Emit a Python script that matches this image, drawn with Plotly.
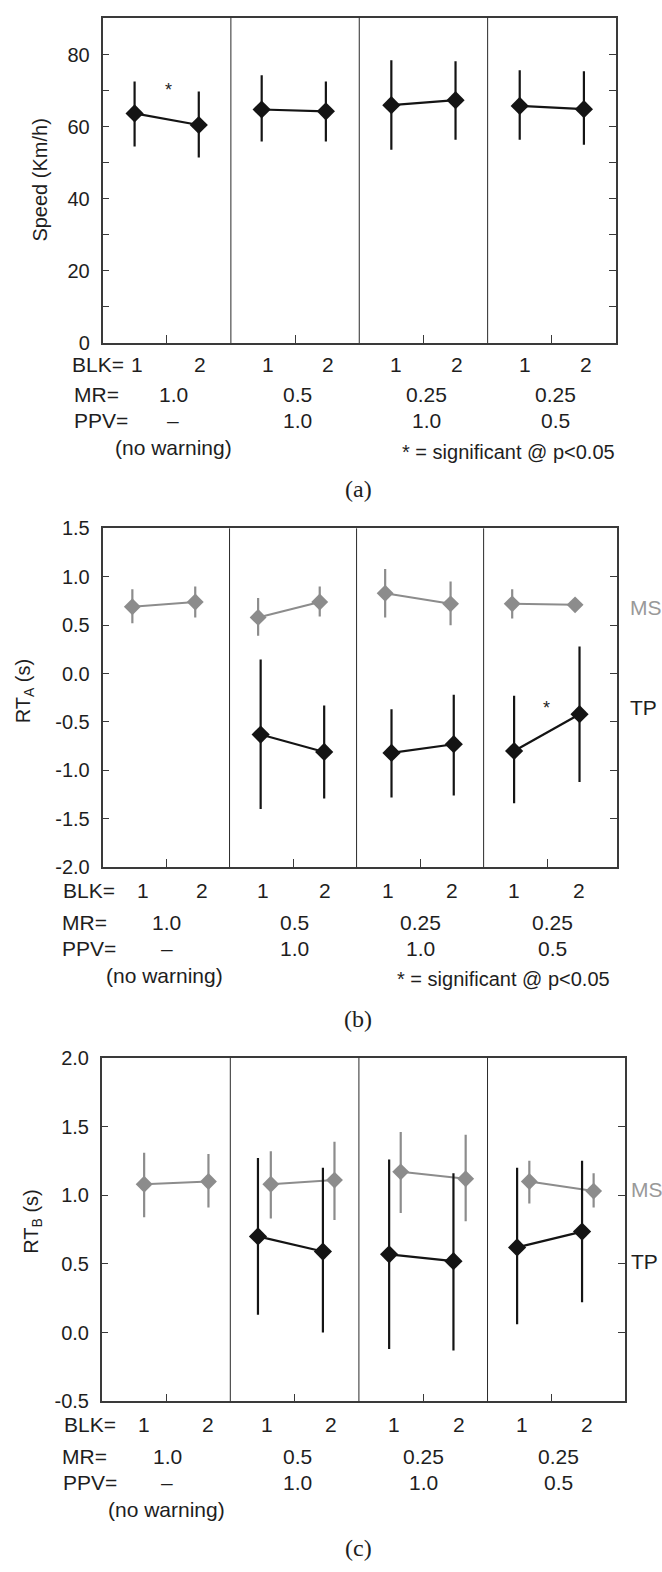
import plotly.graph_objects as go

W, H = 662, 1572

# ---------------- data ----------------
# Panel (a): speed
speed_x = [0.5, 1.5, 2.48, 3.48, 4.5, 5.5, 6.5, 7.5]
speed_mean = [63.7, 60.5, 64.8, 64.3, 66.0, 67.4, 65.8, 64.9]
speed_hi = [72.6, 69.8, 74.3, 72.6, 78.5, 78.2, 75.7, 75.4]
speed_lo = [54.5, 51.5, 55.9, 55.9, 53.6, 56.4, 56.4, 55.0]

# Panel (b): RT_A
ms_a_x = [0.47, 1.46, 2.45, 3.42, 4.45, 5.48, 6.45, 7.44]
ms_a = [0.69, 0.74, 0.58, 0.74, 0.83, 0.72, 0.72, 0.71]
ms_a_hi = [0.87, 0.90, 0.78, 0.90, 1.08, 0.95, 0.87, 0.73]
ms_a_lo = [0.52, 0.58, 0.39, 0.59, 0.58, 0.50, 0.57, 0.69]
tp_a_x = [2.49, 3.49, 4.55, 5.53, 6.48, 7.51]
tp_a = [-0.63, -0.81, -0.82, -0.73, -0.80, -0.42]
tp_a_hi = [0.145, -0.33, -0.37, -0.22, -0.23, 0.28]
tp_a_lo = [-1.40, -1.29, -1.28, -1.26, -1.34, -1.12]

# Panel (c): RT_B
ms_b_x = [0.66, 1.66, 2.63, 3.62, 4.65, 5.66, 6.65, 7.65]
ms_b = [1.08, 1.10, 1.08, 1.11, 1.17, 1.12, 1.10, 1.03]
ms_b_hi = [1.31, 1.30, 1.32, 1.39, 1.46, 1.44, 1.25, 1.16]
ms_b_lo = [0.84, 0.91, 0.83, 0.82, 0.87, 0.81, 0.94, 0.91]
tp_b_x = [2.43, 3.44, 4.47, 5.47, 6.46, 7.47]
tp_b = [0.70, 0.59, 0.57, 0.52, 0.62, 0.735]
tp_b_hi = [1.27, 1.20, 1.26, 1.16, 1.20, 1.25]
tp_b_lo = [0.13, 0.0, -0.12, -0.13, 0.06, 0.22]

# condition labels
blk_labels = ["1", "2", "1", "2", "1", "2", "1", "2"]
mr_labels = ["1.0", "0.5", "0.25", "0.25"]
ppv_labels = ["\u2013", "1.0", "1.0", "0.5"]

speed_ticks = [0, 20, 40, 60, 80]
speed_ticktext = ["0", "20", "40", "60", "80"]
speed_minor = [10, 30, 50, 70]
rta_ticks = [-2.0, -1.5, -1.0, -0.5, 0.0, 0.5, 1.0, 1.5]
rta_ticktext = ["-2.0", "-1.5", "-1.0", "-0.5", "0.0", "0.5", "1.0", "1.5"]
rtb_ticks = [-0.5, 0.0, 0.5, 1.0, 1.5, 2.0]
rtb_ticktext = ["-0.5", "0.0", "0.5", "1.0", "1.5", "2.0"]

# ---------------- styling ----------------
FONT = "Liberation Sans, Arial, Helvetica, sans-serif"
SERIF = "Liberation Serif, Times New Roman, serif"
BLACK = "#141414"
GRAY = "#8c8c8c"
AX = "#3a3a3a"
TXT = "#1e1e1e"


def px(x):
    return x / W


def py(y):
    return 1 - y / H


# pixel boxes of the three plot areas: (left, right, top, bottom)
boxes = [(102.5, 616.0, 6.7, 336.7), (102.5, 617.0, 524.7, 868.3), (101.7, 624.5, 1061.7, 1410.0)]
xranges = [[0, 8.0], [0, 8.1], [0, 8.13]]

fig = go.Figure()


def add_pairs(xa, ya, hi, lo, color, xaxis, yaxis, msize, lw):
    n = len(xa)
    for i in range(0, n, 2):
        xs = xa[i:i + 2]
        ys = ya[i:i + 2]
        up = [h - v for h, v in zip(hi[i:i + 2], ys)]
        dn = [v - l for l, v in zip(lo[i:i + 2], ys)]
        fig.add_trace(go.Scatter(
            x=xs, y=ys, mode="lines+markers", xaxis=xaxis, yaxis=yaxis,
            line=dict(color=color, width=lw),
            marker=dict(symbol="diamond", size=msize, color=color, line=dict(width=0)),
            error_y=dict(type="data", symmetric=False, array=up, arrayminus=dn,
                         color=color, thickness=2.2, width=0),
            showlegend=False, hoverinfo="skip", cliponaxis=False))


add_pairs(speed_x, speed_mean, speed_hi, speed_lo, BLACK, "x", "y", 14, 2.2)
add_pairs(ms_a_x, ms_a, ms_a_hi, ms_a_lo, GRAY, "x2", "y2", 13, 2)
add_pairs(tp_a_x, tp_a, tp_a_hi, tp_a_lo, BLACK, "x2", "y2", 14, 2.2)
add_pairs(ms_b_x, ms_b, ms_b_hi, ms_b_lo, GRAY, "x3", "y3", 13, 2)
add_pairs(tp_b_x, tp_b, tp_b_hi, tp_b_lo, BLACK, "x3", "y3", 14, 2.2)

yranges = [[0, 90.3], [-2.0, 1.5], [-0.5, 2.0]]
yticks = [(speed_ticks, speed_ticktext), (rta_ticks, rta_ticktext), (rtb_ticks, rtb_ticktext)]

layout = dict(
    width=W, height=H, autosize=False,
    margin=dict(l=0, r=0, t=0, b=0),
    paper_bgcolor="white", plot_bgcolor="white",
    font=dict(family=FONT, size=20, color=TXT),
)
for k, (l, r, t, b) in enumerate(boxes):
    sfx = "" if k == 0 else str(k + 1)
    layout["xaxis" + sfx] = dict(
        domain=[px(l), px(r)], range=xranges[k], anchor="y" + sfx,
        showline=True, linecolor=AX, linewidth=1.5, mirror=True,
        ticks="inside", ticklen=8, tickwidth=1, tickcolor=AX,
        tickvals=[1, 3, 5, 7], showticklabels=False,
        showgrid=False, zeroline=False, fixedrange=True)
    ya = dict(
        domain=[py(b), py(t)], range=yranges[k], anchor="x" + sfx,
        showline=True, linecolor=AX, linewidth=1.5, mirror="ticks",
        ticks="inside", ticklen=7, tickwidth=1, tickcolor=AX,
        tickvals=yticks[k][0], ticktext=yticks[k][1],
        tickfont=dict(family=FONT, size=20, color=TXT), ticklabelstandoff=7,
        showgrid=False, zeroline=False, fixedrange=True)
    if k == 0:
        ya["minor"] = dict(tickvals=speed_minor, ticks="inside", ticklen=7,
                           tickwidth=1, tickcolor=AX, showgrid=False)
    layout["yaxis" + sfx] = ya

shapes = []
for k in range(3):
    sfx = "" if k == 0 else str(k + 1)
    for xv in [2, 4, 6]:
        shapes.append(dict(type="line", xref="x" + sfx, yref="y" + sfx + " domain",
                           x0=xv, x1=xv, y0=0, y1=1, line=dict(color="#2a2a2a", width=1)))
layout["shapes"] = shapes

ann = []


def text(x, y, s, xref="paper", size=21, color=TXT, xanchor="center", family=FONT, angle=0):
    ann.append(dict(x=x, y=py(y), xref=xref, yref="paper", text=s, showarrow=False,
                    xanchor=xanchor, yanchor="middle", textangle=angle,
                    font=dict(family=family, size=size, color=color)))


# rows of condition labels, per panel
rows = [
    dict(blk=358.5, mr=388.8, ppv=415.0, nw=442.2, cap=485.0, sig=447.0, sigx=617,
         name_x=(69.5, 71.7, 71.7),
         blk_x=[0.53, 1.52, 2.58, 3.51, 4.58, 5.52, 6.58, 7.54],
         mr_x=[1.1, 3.04, 5.04, 7.05], nw_x=1.1, title_x=40, title_y=172,
         title="Speed (Km/h)"),
    dict(blk=891.8, mr=924.0, ppv=951.0, nw=978.0, cap=1022.0, sig=981.4, sigx=612,
         name_x=(60.5, 59.5, 59.5),
         blk_x=[0.63, 1.56, 2.52, 3.51, 4.5, 5.5, 6.48, 7.5],
         mr_x=[1.01, 3.03, 5.0, 7.09], nw_x=0.98, title_x=24, title_y=690,
         title="RT<sub>A</sub> (s)"),
    dict(blk=1433.4, mr=1466.0, ppv=1492.0, nw=1519.7, cap=1559.0, sig=None, sigx=None,
         name_x=(61.5, 59.5, 60.5),
         blk_x=[0.65, 1.65, 2.57, 3.57, 4.54, 5.55, 6.54, 7.54],
         mr_x=[1.02, 3.05, 5.01, 7.11], nw_x=1.0, title_x=33, title_y=1228,
         title="RT<sub>B</sub> (s)"),
]
captions = ["(a)", "(b)", "(c)"]

for k, rw in enumerate(rows):
    xr = "x" if k == 0 else "x" + str(k + 1)
    text(px(rw["name_x"][0]), rw["blk"], "BLK=", xanchor="left")
    text(px(rw["name_x"][1]), rw["mr"], "MR=", xanchor="left")
    text(px(rw["name_x"][2]), rw["ppv"], "PPV=", xanchor="left")
    for xv, s in zip(rw["blk_x"], blk_labels):
        text(xv, rw["blk"], s, xref=xr)
    for xv, s in zip(rw["mr_x"], mr_labels):
        text(xv, rw["mr"], s, xref=xr)
    for xv, s in zip(rw["mr_x"], ppv_labels):
        text(xv, rw["ppv"], s, xref=xr)
    text(rw["nw_x"], rw["nw"], "(no warning)", xref=xr)
    if rw["sig"] is not None:
        text(px(rw["sigx"]), rw["sig"], "* = significant @ p<0.05", xanchor="right", size=20)
    text(px(358), rw["cap"], captions[k], family=SERIF, size=24)
    text(px(rw["title_x"]), rw["title_y"], rw["title"], size=20, angle=-90)

# significance stars
ann.append(dict(x=1.03, y=70.3, xref="x", yref="y", text="*", showarrow=False,
                font=dict(family=FONT, size=18, color=TXT)))
ann.append(dict(x=6.99, y=-0.36, xref="x2", yref="y2", text="*", showarrow=False,
                font=dict(family=FONT, size=18, color=TXT)))

# series labels
text(px(628), 605, "MS", xanchor="left", color="#999999")
text(px(628), 706.5, "TP", xanchor="left", color=TXT)
text(px(629), 1195, "MS", xanchor="left", color="#999999")
text(px(629), 1268, "TP", xanchor="left", color=TXT)

layout["annotations"] = ann
fig.update_layout(**layout)

fig.write_html("out.html", config={"displayModeBar": False},
               post_script="document.body.style.margin='0';document.body.style.overflow='hidden';")
